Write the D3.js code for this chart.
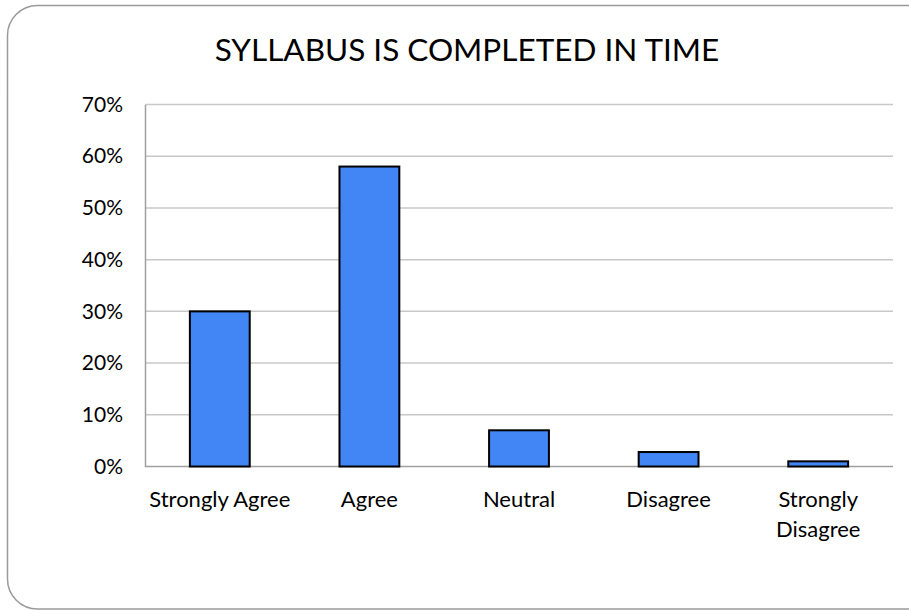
<!DOCTYPE html>
<html>
<head>
<meta charset="utf-8">
<script src="https://cdn.jsdelivr.net/npm/d3@7"></script>
<style>
  body { margin: 0; background: #fff; }
  text { font-family: Lato, "Open Sans", sans-serif; fill: #000; }
</style>
</head>
<body>
<div id="chart"></div>
<script>
const categories = ["Strongly Agree", "Agree", "Neutral", "Disagree", "Strongly Disagree"];
const values = [0.30, 0.58, 0.07, 0.028, 0.01];
const yTicks = [0, 0.1, 0.2, 0.3, 0.4, 0.5, 0.6, 0.7];
const title = "SYLLABUS IS COMPLETED IN TIME";

const w = 909;
const h = 610;
const plotLeft = 145, plotRight = 893, plotTop = 104.5, plotBottom = 466.5;

const svg = d3.select("#chart").append("svg").attr("width", w).attr("height", h);

// outer frame, rounded, runs off the right edge
svg.append("rect")
  .attr("x", 7.5).attr("y", 5.5)
  .attr("width", 930).attr("height", 603.5)
  .attr("rx", 30).attr("ry", 30)
  .attr("fill", "none")
  .attr("stroke", "#9a9a9a")
  .attr("stroke-width", 1.5);

svg.append("text")
  .attr("x", 467).attr("y", 61)
  .attr("text-anchor", "middle")
  .attr("font-size", 31.5)
  .text(title);

const x = d3.scaleBand().domain(categories).range([plotLeft, plotRight]).paddingInner(0.6).paddingOuter(0.3);
const y = d3.scaleLinear().domain([0, 0.7]).range([plotBottom, plotTop]);

// gridlines
svg.append("g")
  .selectAll("line")
  .data(yTicks)
  .enter()
  .append("line")
  .attr("x1", plotLeft).attr("x2", plotRight)
  .attr("y1", (d) => y(d)).attr("y2", (d) => y(d))
  .attr("stroke", (d) => (d === 0 ? "#a0a0a0" : "#c8c8c8"))
  .attr("stroke-width", 1.5);

const yAxis = d3.axisLeft(y).tickValues(yTicks).tickFormat(d3.format(".0%")).tickSize(0).tickPadding(22);
const gy = svg.append("g").attr("transform", "translate(" + plotLeft + ",0)").call(yAxis);
gy.select(".domain").attr("stroke", "#a0a0a0").attr("stroke-width", 1.5);
gy.selectAll("text").attr("font-size", 21).attr("font-family", "Lato, sans-serif");

svg.selectAll("rect.bar")
  .data(values)
  .enter()
  .append("rect")
  .attr("class", "bar")
  .attr("x", (d, i) => x(categories[i]))
  .attr("y", (d) => y(d))
  .attr("width", x.bandwidth())
  .attr("height", (d) => y(0) - y(d))
  .attr("fill", "#4285f4")
  .attr("stroke", "#000")
  .attr("stroke-width", 2);

// category labels, wrap long one
const labels = svg.append("g");
categories.forEach((c, i) => {
  const cx = x(c) + x.bandwidth() / 2;
  const lines = c === "Strongly Disagree" ? ["Strongly", "Disagree"] : [c];
  const t = labels.append("text")
    .attr("text-anchor", "middle")
    .attr("font-size", 22);
  lines.forEach((l, j) => {
    t.append("tspan").attr("x", cx).attr("y", 507 + j * 30).text(l);
  });
});
</script>
</body>
</html>
